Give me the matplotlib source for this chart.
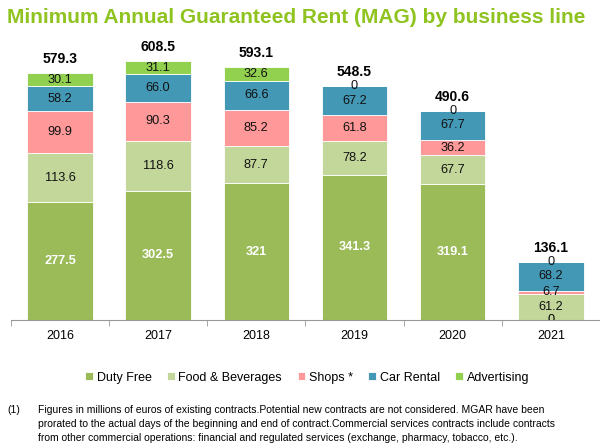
import matplotlib
matplotlib.use("Agg")
import matplotlib.pyplot as plt
import numpy as np

plt.rcParams['font.family'] = ['Liberation Sans', 'DejaVu Sans']

years = ["2016", "2017", "2018", "2019", "2020", "2021"]
duty_free = [277.5, 302.5, 321, 341.3, 319.1, 0]
food_bev = [113.6, 118.6, 87.7, 78.2, 67.7, 61.2]
shops = [99.9, 90.3, 85.2, 61.8, 36.2, 6.7]
car_rental = [58.2, 66.0, 66.6, 67.2, 67.7, 68.2]
advertising = [30.1, 31.1, 32.6, 0, 0, 0]
totals = [579.3, 608.5, 593.1, 548.5, 490.6, 136.1]

series = [
    ("Duty Free", duty_free, "#9BBB59", ["277.5", "302.5", "321", "341.3", "319.1", "0"]),
    ("Food & Beverages", food_bev, "#C4D79B", ["113.6", "118.6", "87.7", "78.2", "67.7", "61.2"]),
    ("Shops *", shops, "#FF9999", ["99.9", "90.3", "85.2", "61.8", "36.2", "6.7"]),
    ("Car Rental", car_rental, "#4298B5", ["58.2", "66.0", "66.6", "67.2", "67.7", "68.2"]),
    ("Advertising", advertising, "#92D050", ["30.1", "31.1", "32.6", "0", "0", "0"]),
]

fig = plt.figure(figsize=(6, 4.48), dpi=100)
ax = fig.add_axes([0.018, 0.286, 0.982, 0.665])
x = np.arange(len(years))
bottom = np.zeros(len(years))
for i, (name, vals, col, labels) in enumerate(series):
    vals = np.array(vals, dtype=float)
    ax.bar(x, vals, 0.665, bottom=bottom, color=col, label=name,
           edgecolor="white", linewidth=0.6)
    for j in range(len(years)):
        yc = bottom[j] + vals[j] / 2
        if i == 0:
            ax.text(x[j], yc, labels[j], ha="center", va="center",
                    color="white" if vals[j] > 0 else "black",
                    fontsize=9.2, fontweight="bold" if vals[j] > 0 else "normal",
                    clip_on=True)
        else:
            ax.text(x[j], yc, labels[j], ha="center", va="center",
                    color="#111111", fontsize=9.2)
    bottom += vals

for j in range(len(years)):
    ax.text(x[j], totals[j] + 33, f"{totals[j]:.1f}", ha="center", va="center",
            fontsize=10, fontweight="bold", color="black")

ax.set_xlim(-0.5, 5.5)
ax.set_ylim(0, 700)
ax.set_yticks([])
for s in ["top", "left", "right"]:
    ax.spines[s].set_visible(False)
ax.spines["bottom"].set_color("#999999")
ax.set_xticks(x)
ax.set_xticklabels(years, fontsize=9)
ax.tick_params(axis="x", length=0, pad=7)
ax.set_xticks(np.arange(-0.5, 6.0, 1), minor=True)
ax.tick_params(axis="x", which="minor", length=4, color="#999999")

fig.text(0.011, 0.962, "Minimum Annual Guaranteed Rent (MAG) by business line",
         fontsize=15, fontweight="bold", color="#8FC31F", va="center", ha="left")

handles, labels_ = ax.get_legend_handles_labels()
fig.legend(handles, labels_, loc="center", bbox_to_anchor=(0.512, 0.157), ncol=5,
           frameon=False, fontsize=9, handlelength=0.6, handleheight=0.6,
           columnspacing=1.25, handletextpad=0.3)

fig.text(0.013, 0.085, "(1)", fontsize=7.5, va="center")
fig.text(0.063, 0.053, "Figures in millions of euros of existing contracts.Potential new contracts are not considered. MGAR have been\n"
         "prorated to the actual days of the beginning and end of contract.Commercial services contracts include contracts\n"
         "from other commercial operations: financial and regulated services (exchange, pharmacy, tobacco, etc.).",
         fontsize=7.5, va="center", ha="left", linespacing=1.5)

fig.savefig("out.png", dpi=100)
